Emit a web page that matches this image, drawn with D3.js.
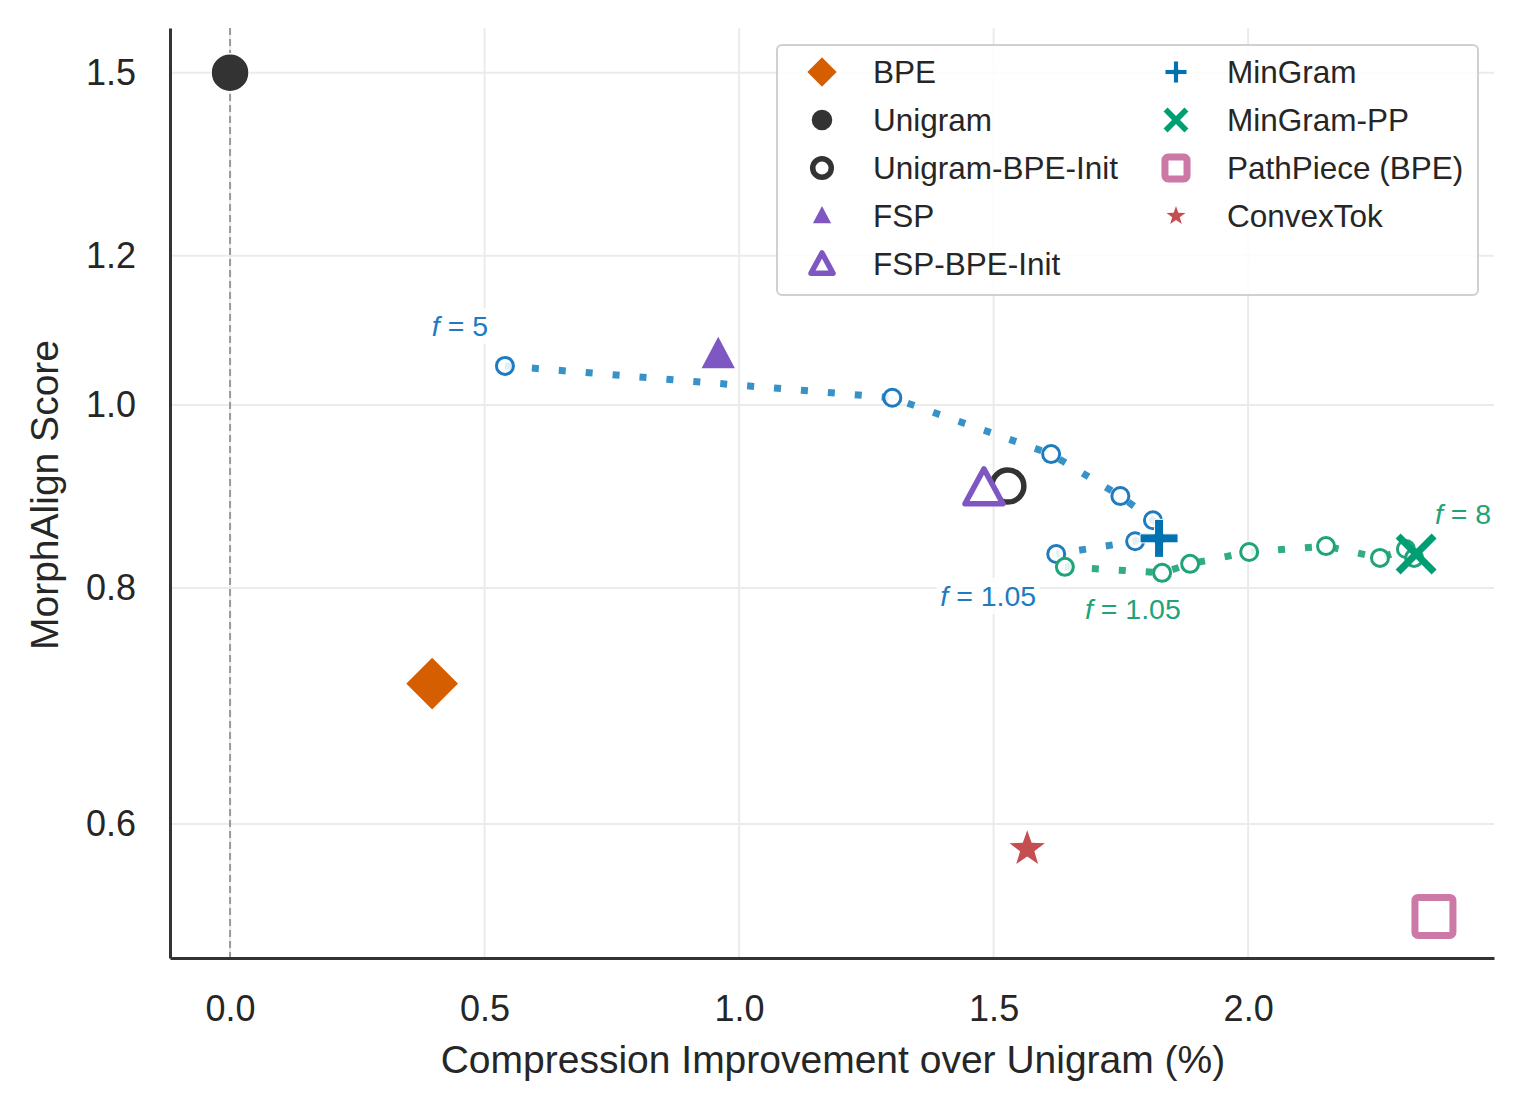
<!DOCTYPE html>
<meta charset="utf-8">
<script src="https://d3js.org/d3.v7.min.js"></script>
<style>
  body { margin: 0; background: #fff; }
  text { font-family: "Liberation Sans", Arial, sans-serif; fill: #262626; }
</style>
<svg width="1524" height="1110"></svg>
<script>

// tokenizer results: compression improvement (%) vs MorphAlign score
const methods = ['BPE', 'Unigram', 'Unigram-BPE-Init', 'FSP', 'FSP-BPE-Init',
                 'MinGram', 'MinGram-PP', 'PathPiece (BPE)', 'ConvexTok'];
const compression = [0.397, 0.0, 1.528, 0.959, 1.481, 1.825, 2.330, 2.365, 1.566];
const morphScore  = [0.712, 1.50, 0.906, 1.063, 0.904, 0.850, 0.834, 0.536, 0.582];

// MinGram sweep over f (f = 5 ... 1.05)
const minGramSweepX = [0.540, 1.301, 1.613, 1.749, 1.813, 1.778, 1.623];
const minGramSweepY = [1.049, 1.009, 0.942, 0.895, 0.869, 0.847, 0.834];
// MinGram-PP sweep over f (f = 1.05 ... 8)
const ppSweepX = [1.640, 1.831, 1.886, 2.002, 2.153, 2.259, 2.310, 2.326];
const ppSweepY = [0.821, 0.815, 0.824, 0.836, 0.842, 0.830, 0.839, 0.830];

const xTicks = [0.0, 0.5, 1.0, 1.5, 2.0];
const yTicks = [0.6, 0.8, 1.0, 1.2, 1.5];

const margin = {top: 28, right: 30, bottom: 152, left: 170},
      width = 1524 - margin.left - margin.right,
      height = 1110 - margin.top - margin.bottom;

const svg = d3.select('svg');
const g = svg.append('g')
    .attr('transform', 'translate(' + margin.left + ',' + margin.top + ')');

const x = d3.scaleLinear().domain([-0.118, 2.483]).range([0, width]);
const y = d3.scaleLog().domain([0.5095, 1.584]).range([height, 0]);

// grid
g.append('g').selectAll('line').data(xTicks).enter().append('line')
    .attr('x1', d => x(d)).attr('x2', d => x(d))
    .attr('y1', 0).attr('y2', height)
    .attr('stroke', '#ebebeb').attr('stroke-width', 2);
g.append('g').selectAll('line').data(yTicks).enter().append('line')
    .attr('x1', 0).attr('x2', width)
    .attr('y1', d => y(d)).attr('y2', d => y(d))
    .attr('stroke', '#ebebeb').attr('stroke-width', 2);

// baseline at unigram
g.append('line')
    .attr('x1', x(0)).attr('x2', x(0)).attr('y1', 0).attr('y2', height)
    .attr('stroke', '#9a9a9a').attr('stroke-width', 2)
    .attr('stroke-dasharray', '7,4');

// axes
const xAxis = g.append('g')
    .attr('transform', 'translate(0,' + height + ')')
    .call(d3.axisBottom(x).tickValues(xTicks).tickFormat(d3.format('.1f')).tickSize(0).tickPadding(37));
const yAxis = g.append('g')
    .call(d3.axisLeft(y).tickValues(yTicks).tickFormat(d3.format('.1f')).tickSize(0).tickPadding(34));
[xAxis, yAxis].forEach(a => {
  a.select('.domain').attr('stroke', '#333').attr('stroke-width', 3);
  a.selectAll('text').attr('font-size', 36).attr('fill', '#262626')
    .attr('font-family', '"Liberation Sans", Arial, sans-serif');
});

svg.append('text')
    .attr('x', 833).attr('y', 1073)
    .attr('text-anchor', 'middle').attr('font-size', 39)
    .text('Compression Improvement over Unigram (%)');
svg.append('text')
    .attr('transform', 'translate(58,' + 495 + ') rotate(-90)')
    .attr('text-anchor', 'middle').attr('font-size', 39)
    .text('MorphAlign Score');

// sweeps
function sweep(xs, ys, lineColor, dotColor) {
  const pts = xs.map((v, i) => [x(v), y(ys[i])]);
  g.append('path')
      .attr('d', d3.line()(pts))
      .attr('fill', 'none').attr('stroke', lineColor).attr('stroke-width', 7)
      .attr('stroke-dasharray', '7,20').attr('opacity', 0.95);
  g.append('g').selectAll('circle').data(pts).enter().append('circle')
      .attr('cx', d => d[0]).attr('cy', d => d[1]).attr('r', 8.5)
      .attr('fill', '#fff').attr('fill-opacity', 0.85)
      .attr('stroke', dotColor).attr('stroke-width', 3);
}
sweep(minGramSweepX, minGramSweepY, '#2b8cc4', '#1f7bbf');
sweep(ppSweepX, ppSweepY, '#27a880', '#21a37a');

// marker shapes
function starPath(R) {
  const r = R * 0.4, p = [];
  for (let i = 0; i < 10; i++) {
    const a = -Math.PI / 2 + i * Math.PI / 5, rr = i % 2 ? r : R;
    p.push([rr * Math.cos(a), rr * Math.sin(a)]);
  }
  return 'M' + p.join('L') + 'Z';
}
function drawMarker(sel, name, s) {
  // s: scale factor (1 = plot size)
  switch (name) {
    case 'BPE':
      sel.append('path').attr('d', d3.line()([[0, -27 * s], [27 * s, 0], [0, 27 * s], [-27 * s, 0]]) + 'Z')
        .attr('fill', '#d55e00').attr('stroke', '#fff').attr('stroke-width', 1.5);
      break;
    case 'Unigram':
      sel.append('circle').attr('r', 19 * s).attr('fill', '#333')
        .attr('stroke', '#fff').attr('stroke-width', 1.5);
      break;
    case 'Unigram-BPE-Init':
      sel.append('circle').attr('r', 16 * s).attr('fill', '#fff')
        .attr('stroke', '#333').attr('stroke-width', 5.5);
      break;
    case 'FSP':
      sel.append('path').attr('d', d3.line()([[0, -20 * s], [18 * s, 14 * s], [-18 * s, 14 * s]]) + 'Z')
        .attr('fill', '#7e57c2').attr('stroke', '#fff').attr('stroke-width', 1.5);
      break;
    case 'FSP-BPE-Init':
      sel.append('path').attr('d', d3.line()([[0, -19 * s], [19 * s, 16 * s], [-19 * s, 16 * s]]) + 'Z')
        .attr('fill', '#fff').attr('stroke', '#7e57c2').attr('stroke-width', 5.5)
        .attr('stroke-linejoin', 'round');
      break;
    case 'MinGram':
      sel.append('path').attr('d',
          'M' + (-4.5 * s) + ',' + (-19 * s) + 'H' + (4.5 * s) + 'V' + (-4.5 * s) + 'H' + (19 * s) +
          'V' + (4.5 * s) + 'H' + (4.5 * s) + 'V' + (19 * s) + 'H' + (-4.5 * s) + 'V' + (4.5 * s) +
          'H' + (-19 * s) + 'V' + (-4.5 * s) + 'H' + (-4.5 * s) + 'Z')
        .attr('fill', '#0072b2').attr('stroke', '#fff').attr('stroke-width', 1);
      break;
    case 'MinGram-PP':
      sel.append('path').attr('d',
          'M' + (-18 * s) + ',' + (-18 * s) + 'L' + (18 * s) + ',' + (18 * s) +
          'M' + (18 * s) + ',' + (-18 * s) + 'L' + (-18 * s) + ',' + (18 * s))
        .attr('stroke', '#009e73').attr('stroke-width', 7 * Math.max(s, 0.8)).attr('fill', 'none');
      break;
    case 'PathPiece (BPE)':
      sel.append('rect').attr('x', -19 * s).attr('y', -19 * s)
        .attr('width', 38 * s).attr('height', 38 * s).attr('rx', 3)
        .attr('fill', '#fff').attr('stroke', '#cc79a7').attr('stroke-width', 7);
      break;
    case 'ConvexTok':
      sel.append('path').attr('d', starPath(21 * s))
        .attr('fill', '#c44e52').attr('stroke', '#fff').attr('stroke-width', 1.5);
      break;
  }
}

methods.forEach((m, i) => {
  const mg = g.append('g')
      .attr('transform', 'translate(' + x(compression[i]) + ',' + y(morphScore[i]) + ')');
  drawMarker(mg, m, 1);
});

// sweep annotations
const notes = [
  {label: '5',    color: '#1f7bbf', px: minGramSweepX[0], py: minGramSweepY[0], dx: -45, dy: -40},
  {label: '1.05', color: '#1f7bbf', px: minGramSweepX[6], py: minGramSweepY[6], dx: -68, dy: 42},
  {label: '1.05', color: '#21a37a', px: ppSweepX[0],     py: ppSweepY[0],     dx: 68,  dy: 42},
  {label: '8',    color: '#21a37a', px: ppSweepX[7],     py: ppSweepY[7],     dx: 49,  dy: -44}
];
notes.forEach(n => {
  const ng = g.append('g')
      .attr('transform', 'translate(' + (x(n.px) + n.dx) + ',' + (y(n.py) + n.dy) + ')');
  const bg = ng.append('rect').attr('fill', '#fff').attr('opacity', 0.85);
  const t = ng.append('text').attr('text-anchor', 'middle').attr('dy', '0.35em')
      .attr('font-size', 28.5).attr('font-family', '"DejaVu Sans", sans-serif')
      .style('fill', n.color);
  t.append('tspan').attr('font-style', 'italic').text('f');
  t.append('tspan').text(' = ' + n.label);
  const b = t.node().getBBox();
  bg.attr('x', b.x - 4).attr('y', b.y - 2).attr('width', b.width + 8).attr('height', b.height + 4);
});

// legend
const legend = svg.append('g').attr('transform', 'translate(777,45)');
legend.append('rect').attr('width', 701).attr('height', 250).attr('rx', 5)
    .attr('fill', '#fff').attr('fill-opacity', 0.85)
    .attr('stroke', '#d0d0d0').attr('stroke-width', 2);
methods.forEach((m, i) => {
  const col = i < 5 ? 0 : 1, row = i < 5 ? i : i - 5;
  const item = legend.append('g')
      .attr('transform', 'translate(' + (45 + col * 354) + ',' + (27 + row * 48) + ')');
  drawMarker(item.append('g'), m, 0.58);
  item.append('text').attr('x', 51).attr('dy', '0.35em')
      .attr('font-size', 31.5).text(m);
});

</script>
